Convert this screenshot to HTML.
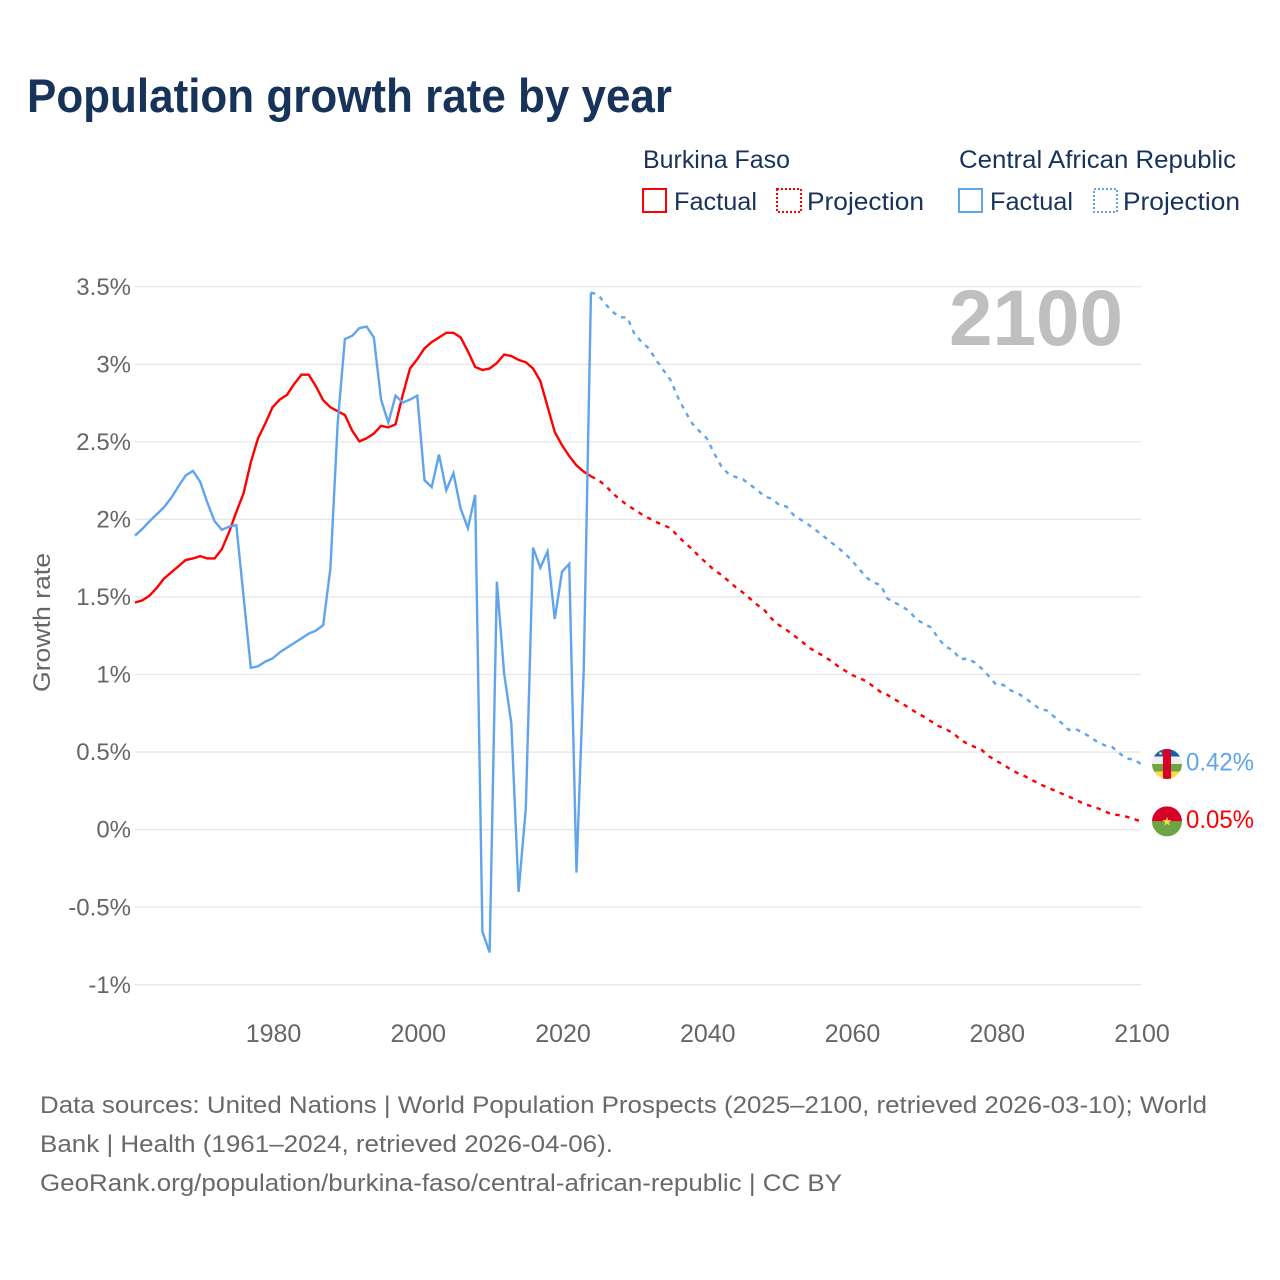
<!DOCTYPE html>
<html lang="en">
<head>
<meta charset="utf-8">
<title>Population growth rate by year</title>
<style>
html,body{margin:0;padding:0;background:#fff;width:1280px;height:1280px;overflow:hidden}
svg{display:block;font-family:"Liberation Sans",sans-serif}
.tick{font-size:24px;fill:#666}
.xtick{font-size:25px;fill:#666}
.leg{font-size:25px;fill:#18335a}
.foot{font-size:24.5px;fill:#696969}
</style>
</head>
<body>
<svg id="chart" width="1280" height="1280" viewBox="0 0 1280 1280" xmlns="http://www.w3.org/2000/svg">
  <rect width="1280" height="1280" fill="#fff"/>
  <text x="27" y="112" font-size="47" font-weight="700" fill="#18335a" textLength="645" lengthAdjust="spacingAndGlyphs">Population growth rate by year</text>

  <g>
    <text class="leg" x="643" y="168" textLength="147" lengthAdjust="spacingAndGlyphs">Burkina Faso</text>
    <text class="leg" x="959" y="168" textLength="277" lengthAdjust="spacingAndGlyphs">Central African Republic</text>
    <g>
      <rect x="643" y="189" width="23" height="23" fill="none" stroke="#ff0000" stroke-width="2"/>
      <text class="leg" x="674" y="210" textLength="83" lengthAdjust="spacingAndGlyphs">Factual</text>
    </g>
    <g>
      <rect x="777" y="189" width="24" height="23" fill="none" stroke="#ff0000" stroke-width="2" stroke-dasharray="2,2"/>
      <text class="leg" x="807" y="210" textLength="117" lengthAdjust="spacingAndGlyphs">Projection</text>
    </g>
    <g>
      <rect x="959" y="189" width="23" height="23" fill="none" stroke="#60a5ec" stroke-width="2"/>
      <text class="leg" x="990" y="210" textLength="83" lengthAdjust="spacingAndGlyphs">Factual</text>
    </g>
    <g>
      <rect x="1094" y="189" width="23" height="23" fill="none" stroke="#60a5ec" stroke-width="2" stroke-dasharray="2,2"/>
      <text class="leg" x="1123" y="210" textLength="117" lengthAdjust="spacingAndGlyphs">Projection</text>
    </g>
  </g>

  <g id="grid"></g>
  <text x="949" y="345" font-size="79" font-weight="700" fill="#bfbfbf" textLength="174" lengthAdjust="spacingAndGlyphs">2100</text>
  <g id="yticks"></g>
  <g id="xticks"></g>
  <text class="tick" transform="translate(50,622.5) rotate(-90)" text-anchor="middle" textLength="139" lengthAdjust="spacingAndGlyphs">Growth rate</text>
  <g id="series"></g>

  <defs>
    <clipPath id="clip-flag-car"><circle cx="0" cy="0" r="15"/></clipPath>
    <clipPath id="clip-flag-bf"><circle cx="0" cy="0" r="15"/></clipPath>
  </defs>
  <g id="flag-car">
    <g clip-path="url(#clip-flag-car)">
      <rect x="-15" y="-15" width="30" height="8" fill="#0f5fb5"/>
      <rect x="-15" y="-7.5" width="30" height="7.5" fill="#eeeeee"/>
      <rect x="-15" y="0" width="30" height="7.5" fill="#6da544"/>
      <rect x="-15" y="7.5" width="30" height="7.5" fill="#ffda44"/>
      <rect x="-4" y="-15" width="8" height="30" fill="#d80027"/>
      <circle cx="-6.5" cy="-10.5" r="1.4" fill="#ffda44"/>
    </g>
  </g>
  <g id="flag-bf">
    <g clip-path="url(#clip-flag-bf)">
      <rect x="-15" y="-15" width="30" height="15" fill="#d80027"/>
      <rect x="-15" y="0" width="30" height="15" fill="#6da544"/>
      <polygon points="0,-4.5 1.2,-1.2 4.5,-1.2 1.8,0.9 2.8,4.2 0,2.2 -2.8,4.2 -1.8,0.9 -4.5,-1.2 -1.2,-1.2" fill="#ffda44"/>
    </g>
  </g>
  <text id="end-label-car" font-size="25" fill="#60a5ec" textLength="68" lengthAdjust="spacingAndGlyphs">0.42%</text>
  <text id="end-label-bf" font-size="25" fill="#ff0000" textLength="68" lengthAdjust="spacingAndGlyphs">0.05%</text>

  <g>
    <text class="foot" x="40" y="1113" textLength="1167" lengthAdjust="spacingAndGlyphs">Data sources: United Nations | World Population Prospects (2025–2100, retrieved 2026-03-10); World</text>
    <text class="foot" x="40" y="1152" textLength="573" lengthAdjust="spacingAndGlyphs">Bank | Health (1961–2024, retrieved 2026-04-06).</text>
    <text class="foot" x="40" y="1191" textLength="802" lengthAdjust="spacingAndGlyphs">GeoRank.org/population/burkina-faso/central-african-republic | CC BY</text>
  </g>
</svg>
<script>
const factualStartYear = 1961;
const projectionStartYear = 2025;
const lastYear = 2100;

const burkinaFactual = [1.466,1.48,1.51,1.56,1.62,1.66,1.70,1.74,1.75,1.765,1.75,1.75,1.81,1.92,2.05,2.17,2.37,2.525,2.62,2.725,2.775,2.805,2.875,2.935,2.935,2.86,2.77,2.725,2.70,2.675,2.575,2.505,2.525,2.555,2.605,2.595,2.615,2.805,2.975,3.035,3.105,3.145,3.175,3.205,3.205,3.175,3.085,2.985,2.965,2.975,3.01,3.065,3.055,3.03,3.015,2.975,2.895,2.73,2.565,2.48,2.41,2.35,2.31,2.28];
const burkinaProjection = [2.256,2.22,2.17,2.13,2.095,2.065,2.035,2.01,1.985,1.965,1.945,1.895,1.85,1.81,1.76,1.72,1.675,1.645,1.605,1.565,1.53,1.49,1.45,1.415,1.36,1.32,1.29,1.255,1.22,1.18,1.15,1.125,1.095,1.06,1.03,1.00,0.98,0.96,0.925,0.89,0.87,0.84,0.815,0.785,0.755,0.73,0.70,0.67,0.65,0.625,0.585,0.555,0.535,0.515,0.475,0.445,0.42,0.39,0.365,0.345,0.32,0.295,0.275,0.255,0.235,0.215,0.195,0.17,0.155,0.14,0.12,0.10,0.095,0.085,0.07,0.055];
const carFactual = [1.897,1.94,1.99,2.035,2.08,2.14,2.215,2.285,2.315,2.245,2.11,1.99,1.935,1.955,1.965,1.505,1.045,1.055,1.085,1.105,1.145,1.175,1.205,1.235,1.265,1.285,1.32,1.685,2.62,3.165,3.185,3.235,3.245,3.175,2.775,2.625,2.80,2.755,2.775,2.80,2.255,2.21,2.42,2.19,2.30,2.07,1.945,2.16,-0.655,-0.79,1.60,1.01,0.685,-0.40,0.14,1.82,1.69,1.795,1.36,1.665,1.715,-0.275,1.03,3.465];
const carProjection = [3.45,3.39,3.34,3.305,3.305,3.20,3.145,3.105,3.03,2.965,2.90,2.79,2.70,2.62,2.57,2.525,2.43,2.345,2.295,2.275,2.26,2.225,2.19,2.15,2.135,2.095,2.085,2.03,2.00,1.97,1.935,1.90,1.86,1.825,1.785,1.74,1.685,1.63,1.595,1.58,1.49,1.465,1.44,1.41,1.355,1.33,1.305,1.235,1.18,1.16,1.10,1.105,1.08,1.04,0.99,0.935,0.935,0.90,0.88,0.85,0.815,0.78,0.77,0.73,0.69,0.645,0.65,0.625,0.60,0.565,0.545,0.535,0.495,0.46,0.455,0.425];

const yTickValues = [3.5,3,2.5,2,1.5,1,0.5,0,-0.5,-1];
const yTickLabels = ["3.5%","3%","2.5%","2%","1.5%","1%","0.5%","0%","-0.5%","-1%"];
const xTickValues = [1980,2000,2020,2040,2060,2080,2100];
const xTickLabels = ["1980","2000","2020","2040","2060","2080","2100"];

const NS = "http://www.w3.org/2000/svg";
const xScale = y => 135 + (y - factualStartYear) * (1141 - 135) / (lastYear - factualStartYear);
const yScale = v => 829.9 - v * 155.1;

const grid = document.getElementById("grid");
const yticks = document.getElementById("yticks");
const xticks = document.getElementById("xticks");
const series = document.getElementById("series");

yTickValues.forEach((v, i) => {
  const line = document.createElementNS(NS, "line");
  
  
  line.setAttribute("x1", 135);
  line.setAttribute("x2", 1141);
  line.setAttribute("y1", yScale(v) - 0.3);
  line.setAttribute("y2", yScale(v) - 0.3);
  line.setAttribute("stroke", "#e6e6e6");
  line.setAttribute("stroke-width", 1.3);
  grid.appendChild(line);

  const label = document.createElementNS(NS, "text");
  
  
  label.setAttribute("class", "tick");
  label.setAttribute("x", 131);
  label.setAttribute("y", yScale(v) + 7.8);
  label.setAttribute("text-anchor", "end");
  label.textContent = yTickLabels[i];
  yticks.appendChild(label);
});

xTickValues.forEach((y, i) => {
  const label = document.createElementNS(NS, "text");
  
  
  label.setAttribute("class", "xtick");
  label.setAttribute("x", xScale(y) + 1);
  label.setAttribute("y", 1042);
  label.setAttribute("text-anchor", "middle");
  label.textContent = xTickLabels[i];
  xticks.appendChild(label);
});

function pathFrom(startYear, values, prefix) {
  const pts = prefix ? [prefix] : [];
  values.forEach((v, i) => pts.push([xScale(startYear + i), yScale(v)]));
  return "M" + pts.map(p => p[0].toFixed(2) + "," + p[1].toFixed(2)).join("L");
}

function lastPoint(startYear, values) {
  const i = values.length - 1;
  return [xScale(startYear + i), yScale(values[i])];
}

const carFactualLine = document.createElementNS(NS, "path");


carFactualLine.setAttribute("d", pathFrom(factualStartYear, carFactual));
carFactualLine.setAttribute("fill", "none");
carFactualLine.setAttribute("stroke", "#60a5ec");
carFactualLine.setAttribute("stroke-width", 2.4);
series.appendChild(carFactualLine);

const carProjectionLine = document.createElementNS(NS, "path");


carProjectionLine.setAttribute("d", pathFrom(projectionStartYear, carProjection, lastPoint(factualStartYear, carFactual)));
carProjectionLine.setAttribute("fill", "none");
carProjectionLine.setAttribute("stroke", "#60a5ec");
carProjectionLine.setAttribute("stroke-width", 2.4);
carProjectionLine.setAttribute("stroke-dasharray", "4.5,5.5");
series.appendChild(carProjectionLine);

const bfFactualLine = document.createElementNS(NS, "path");


bfFactualLine.setAttribute("d", pathFrom(factualStartYear, burkinaFactual));
bfFactualLine.setAttribute("fill", "none");
bfFactualLine.setAttribute("stroke", "#ff0000");
bfFactualLine.setAttribute("stroke-width", 2.4);
series.insertBefore(bfFactualLine, carFactualLine);

const bfProjectionLine = document.createElementNS(NS, "path");


bfProjectionLine.setAttribute("d", pathFrom(projectionStartYear, burkinaProjection, lastPoint(factualStartYear, burkinaFactual)));
bfProjectionLine.setAttribute("fill", "none");
bfProjectionLine.setAttribute("stroke", "#ff0000");
bfProjectionLine.setAttribute("stroke-width", 2.4);
bfProjectionLine.setAttribute("stroke-dasharray", "4.5,5.5");
series.insertBefore(bfProjectionLine, carFactualLine);

const carEnd = lastPoint(projectionStartYear, carProjection);
const bfEnd = lastPoint(projectionStartYear, burkinaProjection);
document.getElementById("flag-car").setAttribute("transform", "translate(1167," + carEnd[1] + ")");
document.getElementById("flag-bf").setAttribute("transform", "translate(1167," + bfEnd[1] + ")");
const carLabel = document.getElementById("end-label-car");
carLabel.setAttribute("x", 1186);
carLabel.setAttribute("y", carEnd[1] + 6.5);
const bfLabel = document.getElementById("end-label-bf");
bfLabel.setAttribute("x", 1186);
bfLabel.setAttribute("y", bfEnd[1] + 6.5);
</script>
</body>
</html>
